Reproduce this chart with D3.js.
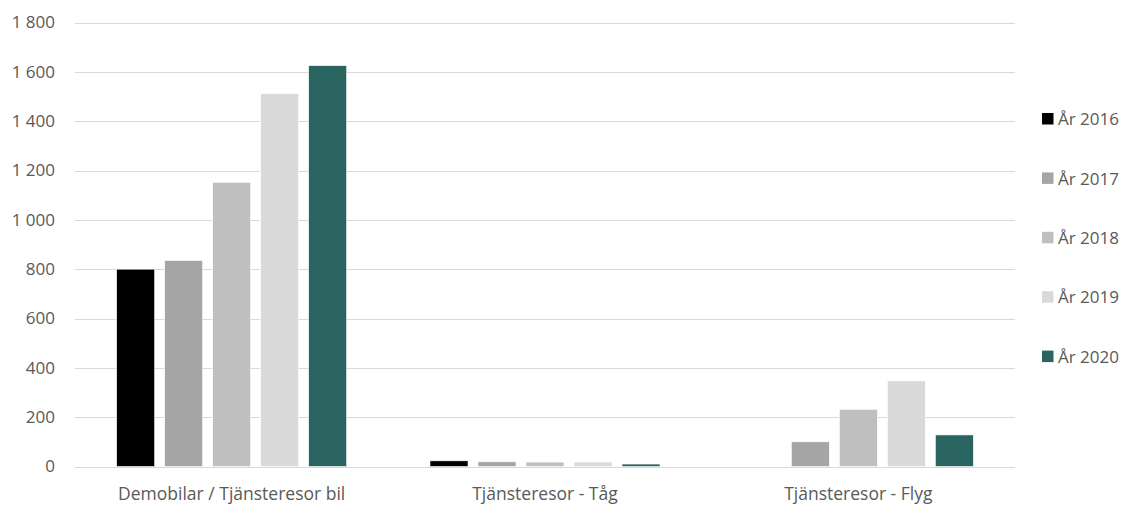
<!DOCTYPE html>
<html>
<head>
<meta charset="utf-8">
<script src="https://cdn.jsdelivr.net/npm/d3@7"></script>
<style>
  html, body { margin: 0; padding: 0; background: #ffffff; }
  svg { display: block; }
  text { font-family: "Open Sans", "Noto Sans", sans-serif; fill: #595959; }
</style>
</head>
<body>
<svg id="chart" width="1128" height="506"></svg>
<script>
// Kategorier och serier
const categories = ["Demobilar / Tjänsteresor bil", "Tjänsteresor - Tåg", "Tjänsteresor - Flyg"];
const seriesNames = ["År 2016", "År 2017", "År 2018", "År 2019", "År 2020"];
const colors = ["#000000", "#a5a5a5", "#bfbfbf", "#d9d9d9", "#2a6461"];

// Värden per serie, i kategoriordning
const v2016 = [800, 23, 0];
const v2017 = [835, 19, 100];
const v2018 = [1152, 18, 232];
const v2019 = [1512, 18, 347];
const v2020 = [1625, 10, 128];
const seriesValues = [v2016, v2017, v2018, v2019, v2020];

const yTicks = [0, 200, 400, 600, 800, 1000, 1200, 1400, 1600, 1800];

const svg = d3.select("#chart");
const plot = { left: 75, right: 1015, top: 22.5, bottom: 466.5 };

const x0 = d3.scaleBand().domain(categories).range([plot.left, plot.right]).padding(0);
const x1 = d3.scaleBand().domain(seriesNames).range([0, x0.bandwidth()])
  .paddingInner(0.208).paddingOuter(0.868);
const y = d3.scaleLinear().domain([0, 1800]).range([plot.bottom, plot.top]);

// Rutnät
svg.append("g")
  .selectAll("line")
  .data(yTicks)
  .join("line")
  .attr("x1", plot.left).attr("x2", plot.right)
  .attr("y1", d => Math.round(y(d)) + 0.5).attr("y2", d => Math.round(y(d)) + 0.5)
  .attr("stroke", "#d9d9d9").attr("stroke-width", 1);

// Y-axelns etiketter
const yAxis = d3.axisLeft(y).tickValues(yTicks)
  .tickFormat(d => d3.format(",")(d).replace(/,/g, " "))
  .tickSize(0).tickPadding(0);
const gy = svg.append("g").attr("transform", `translate(55,0)`).call(yAxis);
gy.select(".domain").remove();
gy.selectAll("text")
  .style("font-family", "\"Open Sans\", \"Noto Sans\", sans-serif")
  .style("font-size", "17px")
  .attr("fill", "#595959");

// Staplar
const groups = svg.append("g")
  .selectAll("g")
  .data(categories)
  .join("g")
  .attr("transform", d => `translate(${x0(d)},0)`);

groups.selectAll("rect")
  .data((c, ci) => seriesNames.map((s, si) => ({ s, si, v: seriesValues[si][ci] })))
  .join("rect")
  .filter(d => d.v > 0)
  .attr("x", d => x1(d.s))
  .attr("width", x1.bandwidth())
  .attr("y", d => y(d.v))
  .attr("height", d => y(0) - y(d.v))
  .attr("fill", d => colors[d.si])
  .attr("stroke", "#ffffff")
  .attr("stroke-width", 0.6);

// X-axelns etiketter
svg.append("g")
  .selectAll("text")
  .data(categories)
  .join("text")
  .attr("x", d => x0(d) + x0.bandwidth() / 2)
  .attr("y", 500)
  .attr("text-anchor", "middle")
  .style("font-size", "17.5px")
  .text(d => d);

// Förklaring
const legend = svg.append("g")
  .selectAll("g")
  .data(seriesNames)
  .join("g")
  .attr("transform", (d, i) => `translate(1042,${119 + i * 59.4})`);

legend.append("rect")
  .attr("x", 0).attr("y", -6)
  .attr("width", 11.5).attr("height", 11.5)
  .attr("fill", (d, i) => colors[i]);

legend.append("text")
  .attr("x", 16).attr("y", 0)
  .attr("dy", "0.36em")
  .style("font-size", "17px")
  .text(d => d);
</script>
</body>
</html>
